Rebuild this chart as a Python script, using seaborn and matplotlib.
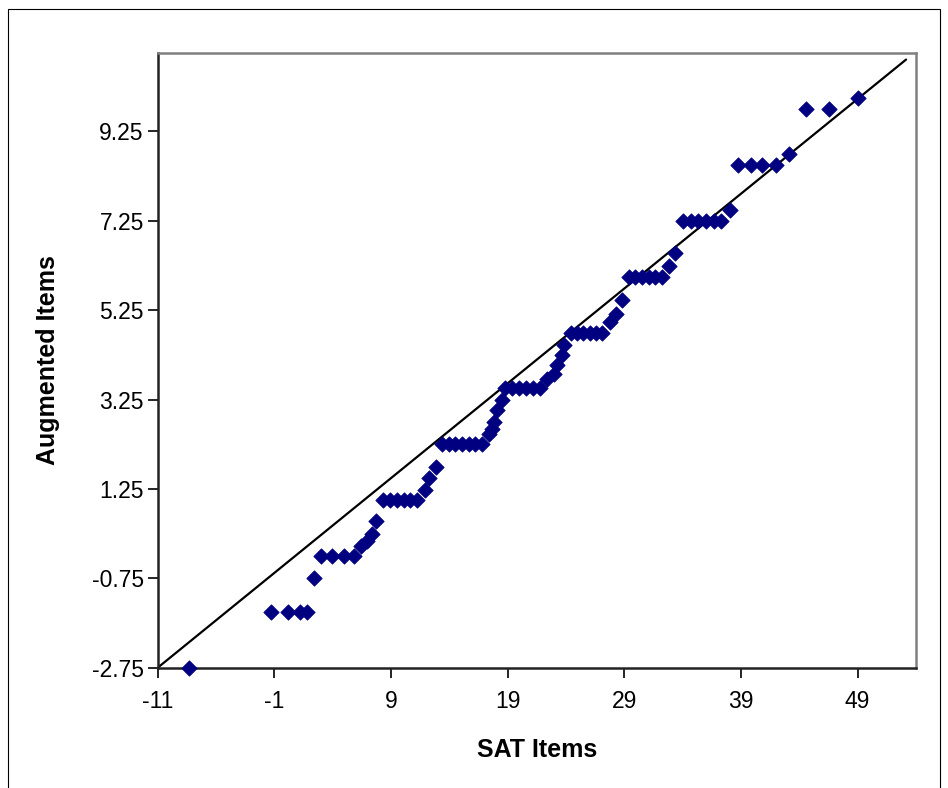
import matplotlib
matplotlib.use("Agg")
import matplotlib.pyplot as plt
import seaborn as sns
import pandas as pd
from matplotlib.patches import Rectangle

# ---- data ----
sat_items = [-8.30, -1.26, 0.16, 1.22, 1.79, 2.44, 3.04, 3.98, 5.01, 5.86,
             6.46, 6.97, 7.40, 7.74, 8.34, 8.94, 9.54, 10.09, 10.65, 11.25,
             11.93, 12.27, 12.87, 13.38, 13.96, 14.52, 15.09, 15.67, 16.23, 16.80,
             17.40, 17.68, 17.83, 18.11, 18.54, 18.74, 19.34, 19.95, 20.56, 21.16,
             21.76, 22.38, 22.96, 23.24, 23.67, 23.81, 24.41, 24.92, 25.48, 26.03,
             26.55, 27.06, 27.74, 28.26, 28.77, 29.37, 29.93, 30.48, 31.08, 31.64,
             32.19, 32.79, 33.36, 34.07, 34.72, 35.35, 36.03, 36.68, 37.32, 38.06,
             38.77, 39.85, 40.82, 42.04, 43.10, 44.56, 46.52, 49.03]
augmented_items = [-2.75, -1.50, -1.50, -1.50, -1.50, -0.75, -0.25, -0.25, -0.25, -0.25,
                   -0.03, 0.08, 0.24, 0.53, 1.00, 1.00, 1.00, 1.00, 1.00, 1.00,
                   1.22, 1.49, 1.74, 2.25, 2.25, 2.25, 2.25, 2.25, 2.25, 2.25,
                   2.49, 2.60, 2.75, 3.01, 3.24, 3.50, 3.50, 3.50, 3.50, 3.50,
                   3.50, 3.72, 3.83, 4.02, 4.24, 4.47, 4.75, 4.75, 4.75, 4.75,
                   4.75, 4.75, 4.98, 5.16, 5.47, 6.00, 6.00, 6.00, 6.00, 6.00,
                   6.00, 6.25, 6.52, 7.25, 7.25, 7.25, 7.25, 7.25, 7.25, 7.50,
                   8.50, 8.50, 8.50, 8.50, 8.75, 9.75, 9.75, 10.00]
fit_x = [-11.0, 53.15]
fit_y = [-2.75, 10.86]
x_ticks = [-11, -1, 9, 19, 29, 39, 49]
y_ticks = [-2.75, -0.75, 1.25, 3.25, 5.25, 7.25, 9.25]
y_tick_labels = ["-2.75", "-0.75", "1.25", "3.25", "5.25", "7.25", "9.25"]

df = pd.DataFrame({"SAT Items": sat_items, "Augmented Items": augmented_items})
line_df = pd.DataFrame({"x": fit_x, "y": fit_y})

sns.set_style("white")
plt.rcParams["font.family"] = ["Liberation Sans", "DejaVu Sans"]

W, H = 948, 788
fig = plt.figure(figsize=(W / 100, H / 100), dpi=100)
L, R, T, B = 157.7, 916.0, 53.3, 667.7
ax = fig.add_axes([L / W, 1 - B / H, (R - L) / W, (B - T) / H])

sns.lineplot(data=line_df, x="x", y="y", ax=ax, color="black", linewidth=1.6, zorder=2)
sns.scatterplot(data=df, x="SAT Items", y="Augmented Items", ax=ax, marker="D",
                s=62, color="#000080", edgecolor="#000080", linewidth=0.5,
                zorder=3, clip_on=False)

ax.set_xlim(-11, 54)
ax.set_ylim(-2.75, 11.0)
ax.set_xticks(x_ticks)
ax.set_xticklabels([str(v) for v in x_ticks])
ax.set_yticks(y_ticks)
ax.set_yticklabels(y_tick_labels)
ax.tick_params(axis="both", which="major", direction="out", length=7, width=1.2,
               color="black", labelcolor="black", labelsize=16.5,
               bottom=True, left=True)
ax.tick_params(axis="x", pad=9)
ax.tick_params(axis="y", pad=3)

for side in ["left", "bottom"]:
    ax.spines[side].set_color("#222222")
    ax.spines[side].set_linewidth(1.8)
for side in ["top", "right"]:
    ax.spines[side].set_color("#808080")
    ax.spines[side].set_linewidth(1.8)

ax.set_xlabel("SAT Items", fontsize=18, fontweight="bold", color="black")
ax.set_ylabel("Augmented Items", fontsize=18, fontweight="bold", color="black")
ax.xaxis.set_label_coords(0.5, (B - 750) / (B - T))
ax.yaxis.set_label_coords((48 - L) / (R - L), 0.5)
ax.xaxis.label.set_va("center")
ax.yaxis.label.set_va("center")

fig.add_artist(Rectangle((8 / W, -0.05), (940 - 8) / W, 1.05 - 9 / H,
                         transform=fig.transFigure, fill=False,
                         edgecolor="black", linewidth=0.8))

fig.savefig("out.png", dpi=100)
